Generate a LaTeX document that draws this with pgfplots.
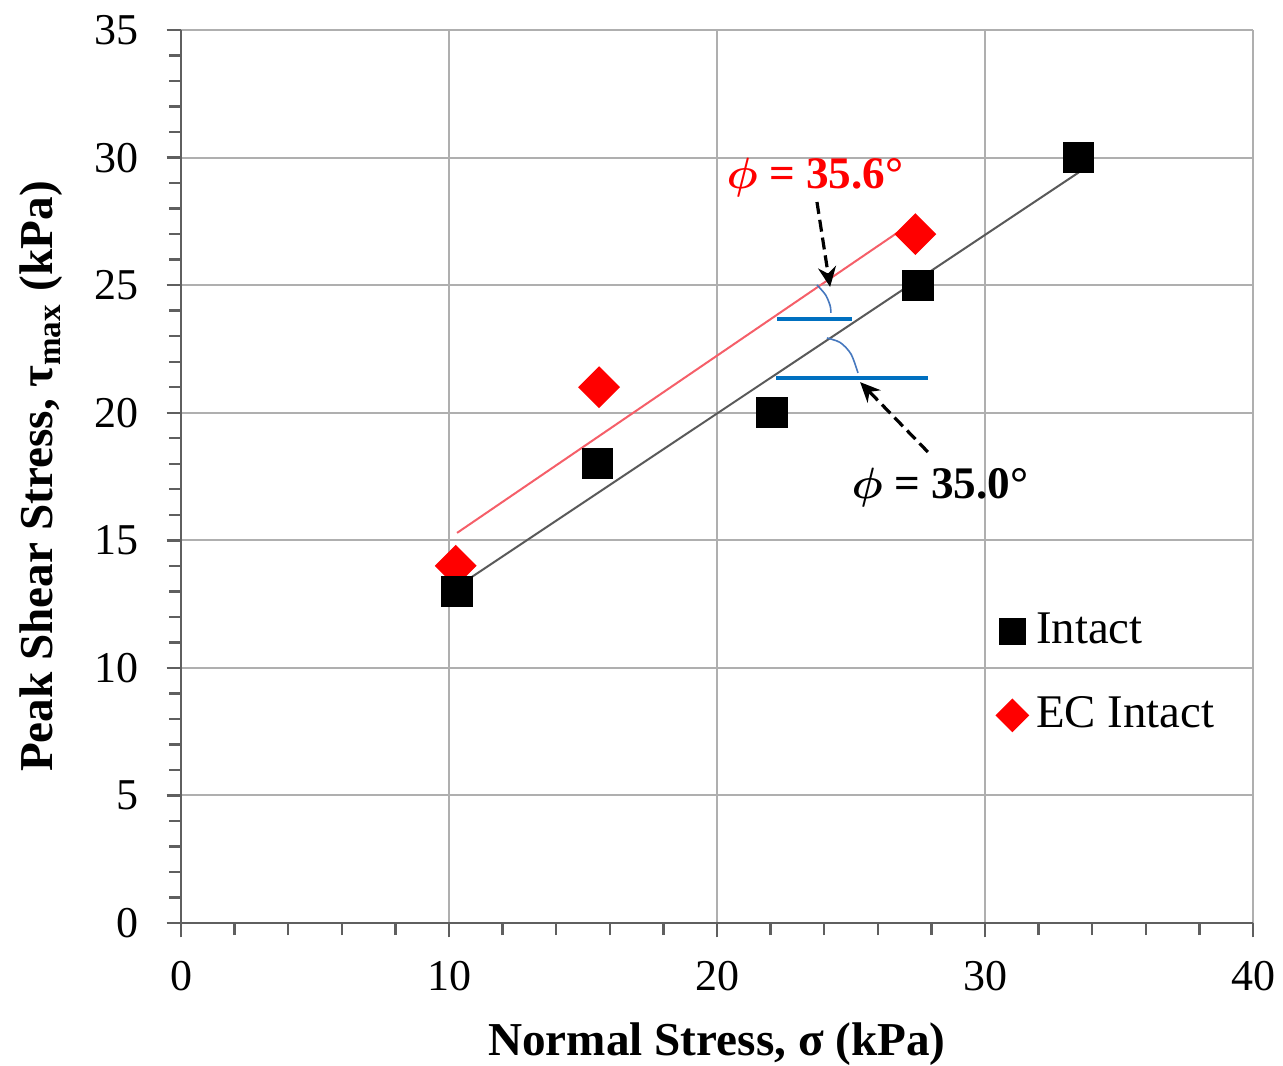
\documentclass[border=0pt]{standalone}
\usepackage{fontspec}
\setmainfont{Liberation Serif}
\usepackage{bm}
\usepackage{pgfplots}
\pgfplotsset{compat=1.18}
\usetikzlibrary{arrows.meta}
\definecolor{gridgray}{RGB}{175,175,175}
\definecolor{axgray}{RGB}{95,95,95}
\definecolor{fitblue}{RGB}{0,112,192}
\definecolor{arcblue}{RGB}{70,120,190}
\definecolor{redline}{RGB}{245,95,105}
\definecolor{blackline}{RGB}{90,90,90}
\begin{document}
\begin{tikzpicture}
\begin{axis}[name=ax, scale only axis, width=268pt, height=223.25pt,
  xmin=0, xmax=40, ymin=0, ymax=35,
  xtick={0,10,...,40}, ytick={0,5,...,35},
  minor x tick num=4, minor y tick num=4,
  axis lines=left, axis line style={axgray, line width=0.7pt, -},
  tick align=outside, major tick length=3.6pt, minor tick length=3pt,
  tick style={axgray, line width=0.6pt},
  grid=major, major grid style={gridgray, line width=0.5pt},
  /pgf/number format/assume math mode=true,
  tick label style={font=\fontsize{11}{13}\selectfont},
  yticklabel style={xshift=-3.5pt},
  xticklabel style={yshift=-2.5pt},
  xlabel={Normal Stress, σ (kPa)},
  ylabel={Peak Shear Stress, τ\textsubscript{max} (kPa)},
  label style={font=\fontsize{11.8}{14}\selectfont\bfseries},
  xlabel style={yshift=-1pt},
  ylabel style={yshift=1pt},
  legend style={draw=none, fill=none, at={(rel axis cs:0.76,0.357)}, anchor=north west,
    font=\fontsize{11.7}{14}\selectfont, row sep=7.8pt, inner sep=0pt},
  legend cell align=left,
]
\addlegendimage{only marks, mark=square*, black, mark size=3.2pt}
\addlegendentry{Intact}
\addlegendimage{only marks, mark=square*, mark options={rotate=45}, red, mark size=2.8pt}
\addlegendentry{EC Intact}

% fit lines
\addplot[redline, line width=0.5pt, forget plot] coordinates {(10.3,15.29) (26.75,27.07)};
\addplot[blackline, line width=0.5pt, forget plot] coordinates {(10.26,13.15) (33.5,29.42)};

% angle construction
\addplot[fitblue, line width=0.9pt, forget plot] coordinates {(22.24,23.68) (25.04,23.68)};
\addplot[fitblue, line width=0.9pt, forget plot] coordinates {(22.2,21.36) (27.87,21.36)};
\addplot[arcblue, line width=0.4pt, smooth, forget plot] coordinates {(23.73,25.01) (24.05,24.62) (24.22,24.2) (24.25,23.91)};
\addplot[arcblue, line width=0.4pt, smooth, forget plot] coordinates {(24.10,22.93) (24.6,22.75) (25.0,22.3) (25.26,21.56)};

% data
\addplot[only marks, mark=square*, mark options={rotate=45}, red, mark size=3.5pt, forget plot]
  coordinates {(10.25,14) (15.6,21) (27.4,27)};
\addplot[only marks, mark=square*, black, mark size=3.7pt, forget plot]
  coordinates {(10.3,13) (15.55,18) (22.05,20) (27.5,25) (33.5,30)};

% annotations
\draw[black, dashed, dash pattern=on 3pt off 1.5pt, line width=0.8pt, -{Stealth[length=5pt,width=4.5pt]}]
  (axis cs:23.73,28.26) -- (axis cs:24.22,24.93);
\draw[black, dashed, dash pattern=on 3pt off 1.5pt, line width=0.8pt, -{Stealth[length=5pt,width=4.5pt]}]
  (axis cs:27.87,18.46) -- (axis cs:25.34,21.2);
\node[red, font=\fontsize{11.3}{13}\selectfont\bfseries] at (axis cs:23.66,29.2) {$\bm{\phi}$ = 35.6°};
\node[black, font=\fontsize{11.3}{13}\selectfont\bfseries] at (axis cs:28.32,17.05) {$\bm{\phi}$ = 35.0°};
\end{axis}
\pgfresetboundingbox
\useasboundingbox ([shift={(-45.25pt,-35.5pt)}]ax.south west) rectangle ([shift={(275.5pt,230.75pt)}]ax.south west);
\end{tikzpicture}
\end{document}
